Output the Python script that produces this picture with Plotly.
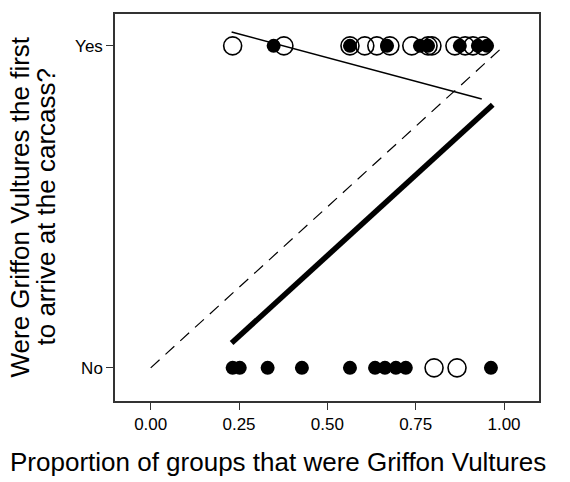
import plotly.graph_objects as go

# Data
yes_open_x = [0.232, 0.377, 0.564, 0.606, 0.640, 0.677, 0.739, 0.785, 0.796, 0.861, 0.890, 0.912, 0.941]
yes_filled_x = [0.348, 0.564, 0.669, 0.762, 0.785, 0.875, 0.926, 0.952]
no_filled_x = [0.232, 0.252, 0.331, 0.428, 0.564, 0.635, 0.663, 0.694, 0.722, 0.963]
no_open_x = [0.802, 0.867]

identity_x = [0.0, 0.99]
identity_y = [0.0, 0.99]
thin_x = [0.229, 0.937]
thin_y = [1.043, 0.835]
thick_x = [0.229, 0.968]
thick_y = [0.077, 0.817]

x_ticks = [0.0, 0.25, 0.5, 0.75, 1.0]
x_ticklabels = ["0.00", "0.25", "0.50", "0.75", "1.00"]
y_ticks = [0, 1]
y_ticklabels = ["No", "Yes"]
y_title_lines = ["Were Griffon Vultures the first", "to arrive at the carcass?"]
x_title = "Proportion of groups that were Griffon Vultures"

FONT = "Liberation Sans, Arial, Helvetica, sans-serif"

fig = go.Figure()

fig.add_trace(go.Scatter(x=identity_x, y=identity_y, mode="lines",
                         line=dict(color="black", width=1.2, dash="12px,8px")))
fig.add_trace(go.Scatter(x=thin_x, y=thin_y, mode="lines",
                         line=dict(color="black", width=1.5)))
fig.add_trace(go.Scatter(x=thick_x, y=thick_y, mode="lines",
                         line=dict(color="black", width=5.5)))

fig.add_trace(go.Scatter(x=yes_filled_x, y=[1] * len(yes_filled_x), mode="markers",
                         marker=dict(size=14, color="black", line=dict(width=0))))
fig.add_trace(go.Scatter(x=no_filled_x, y=[0] * len(no_filled_x), mode="markers",
                         marker=dict(size=14, color="black", line=dict(width=0))))
fig.add_trace(go.Scatter(x=yes_open_x, y=[1] * len(yes_open_x), mode="markers",
                         marker=dict(size=18, color="black", symbol="circle-open",
                                     line=dict(width=1.6, color="black"))))
fig.add_trace(go.Scatter(x=no_open_x, y=[0] * len(no_open_x), mode="markers",
                         marker=dict(size=18, color="black", symbol="circle-open",
                                     line=dict(width=1.6, color="black"))))

fig.update_layout(
    width=570, height=482,
    margin=dict(l=115, r=31, t=12, b=81),
    paper_bgcolor="white", plot_bgcolor="white",
    showlegend=False,
    font=dict(family=FONT, color="black"),
    xaxis=dict(range=[-0.101, 1.099], tickvals=x_ticks, ticktext=x_ticklabels,
               showgrid=False, zeroline=False, showline=True, mirror=True,
               linecolor="#333333", linewidth=1.5, ticks="outside", ticklen=7,
               tickwidth=1.2, tickcolor="#333333", tickfont=dict(size=17, family=FONT)),
    yaxis=dict(range=[-0.103, 1.099], tickvals=y_ticks, ticktext=y_ticklabels,
               showgrid=False, zeroline=False, showline=True, mirror=True,
               linecolor="#333333", linewidth=1.5, ticks="outside", ticklen=7,
               tickwidth=1.2, tickcolor="#333333", tickfont=dict(size=17, family=FONT)),
    annotations=[
        dict(text=y_title_lines[0],
             xref="paper", yref="paper", x=0, y=0.5, xshift=-96,
             xanchor="center", yanchor="middle", textangle=-90, showarrow=False,
             font=dict(size=26, family=FONT)),
        dict(text=y_title_lines[1],
             xref="paper", yref="paper", x=0, y=0.5, xshift=-70,
             xanchor="center", yanchor="middle", textangle=-90, showarrow=False,
             font=dict(size=26, family=FONT)),
        dict(text=x_title,
             xref="paper", yref="paper", x=0.384, y=0, yshift=-61,
             xanchor="center", yanchor="middle", showarrow=False,
             font=dict(size=26, family=FONT)),
    ],
)

# remove the default 8px page margin so the figure fills the window exactly
fig.write_html("out.html", config={"displayModeBar": False},
               post_script="document.body.style.margin='0';")
